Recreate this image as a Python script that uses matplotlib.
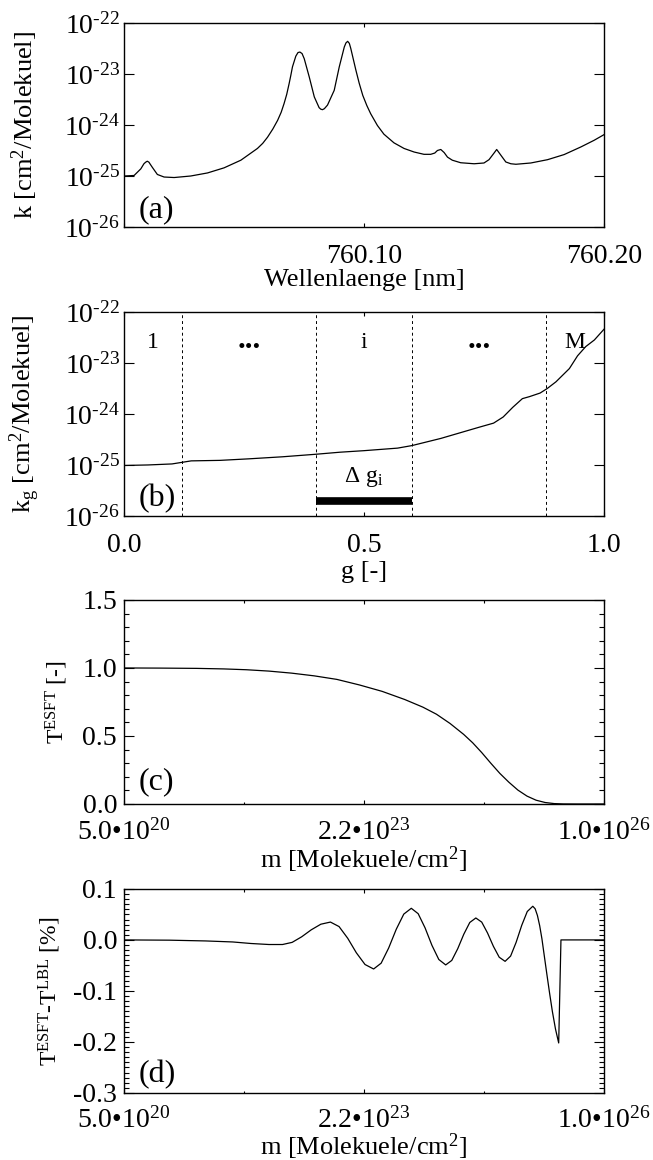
import numpy as np
import matplotlib
matplotlib.use("Agg")
import matplotlib.pyplot as plt
from matplotlib.ticker import FixedLocator, NullFormatter, LogLocator, MultipleLocator, FixedFormatter

plt.rcParams['font.family'] = ['Liberation Serif', 'DejaVu Serif']
plt.rcParams['mathtext.fontset'] = 'custom'
plt.rcParams['mathtext.rm'] = 'Liberation Serif'
plt.rcParams['mathtext.it'] = 'Liberation Serif:italic'
plt.rcParams['mathtext.bf'] = 'Liberation Serif:bold'
plt.rcParams['mathtext.default'] = 'regular'
plt.rcParams['axes.unicode_minus'] = False

# ---------------- data ----------------
# (a) absorption cross section vs wavelength
wavelength_nm = [760.0000, 760.0042, 760.0070, 760.0083, 760.0090, 760.0097, 760.0104, 760.0108,
                 760.0118, 760.0139, 760.0167, 760.0209, 760.0278, 760.0348, 760.0417, 760.0487,
                 760.0520, 760.0556, 760.0578, 760.0598, 760.0620, 760.0640, 760.0655, 760.0667,
                 760.0678, 760.0688, 760.0695, 760.0702, 760.0716, 760.0725,
                 760.0733, 760.0742, 760.0751, 760.0772, 760.0793, 760.0813, 760.0820, 760.0827,
                 760.0835, 760.0848, 760.0876, 760.0897, 760.0918, 760.0925, 760.0932, 760.0939,
                 760.0945, 760.0955, 760.0966, 760.0980, 760.0995, 760.1012, 760.1028, 760.1056,
                 760.1083, 760.1125, 760.1167, 760.1209, 760.1250,
                 760.1278, 760.1295, 760.1306, 760.1320, 760.1334, 760.1348, 760.1368, 760.1403,
                 760.1459, 760.1500, 760.1521, 760.1542, 760.1553, 760.1570, 760.1591, 760.1612,
                 760.1633, 760.1695, 760.1765, 760.1834, 760.1904, 760.1959, 760.2000]
k_log10 = [-25.00, -24.99, -24.86, -24.76, -24.73, -24.71, -24.73, -24.76,
           -24.83, -24.97, -25.02, -25.03, -25.00, -24.94, -24.84, -24.69,
           -24.58, -24.46, -24.36, -24.24, -24.08, -23.91, -23.75, -23.58,
           -23.40, -23.19, -23.03, -22.86, -22.65, -22.58,
           -22.57, -22.60, -22.70, -23.06, -23.45, -23.66, -23.69, -23.70,
           -23.68, -23.61, -23.32, -22.86, -22.47, -22.39, -22.36, -22.40,
           -22.50, -22.70, -22.92, -23.18, -23.42, -23.62, -23.78, -24.01,
           -24.18, -24.35, -24.46, -24.53, -24.575,
           -24.575, -24.55, -24.50, -24.48, -24.54, -24.63, -24.69, -24.74,
           -24.76, -24.745, -24.68, -24.55, -24.48, -24.59, -24.725, -24.76,
           -24.77, -24.745, -24.68, -24.58, -24.43, -24.30, -24.19]

# (b) k-distribution
g_values = [0.00, 0.05, 0.10, 0.12, 0.14, 0.20, 0.26, 0.33, 0.40, 0.45, 0.50, 0.57, 0.60,
            0.66, 0.70, 0.74, 0.77, 0.79, 0.81, 0.83, 0.845, 0.867, 0.882, 0.90, 0.928,
            0.945, 0.962, 0.98, 1.00]
kg_log10 = [-25.01, -25.00, -24.98, -24.95, -24.92, -24.91, -24.88, -24.84, -24.79, -24.75,
            -24.72, -24.67, -24.62, -24.48, -24.37, -24.26, -24.18, -24.06, -23.87, -23.70,
            -23.66, -23.59, -23.50, -23.37, -23.11, -22.86, -22.68, -22.55, -22.34]
g_bounds = [0.12, 0.40, 0.60, 0.88]
interval_labels = ['1', '...', 'i', '...', 'M']
interval_centers = [0.06, 0.26, 0.50, 0.74, 0.94]
delta_g_span = [0.40, 0.60]
delta_g_level = 2.0e-26

# (c) ESFT transmission vs column amount
m_c_log10 = [20.70, 21.10, 21.50, 21.80, 22.05, 22.30, 22.55, 22.80, 23.05, 23.30,
             23.55, 23.80, 24.00, 24.15, 24.30, 24.45, 24.55, 24.65, 24.75, 24.85,
             24.95, 25.05, 25.15, 25.25, 25.35, 25.45, 25.55, 25.70, 26.00]
T_esft = [1.000, 0.999, 0.997, 0.993, 0.987, 0.977, 0.962, 0.942, 0.916, 0.875,
          0.828, 0.768, 0.712, 0.660, 0.592, 0.512, 0.450, 0.378, 0.300, 0.225,
          0.160, 0.102, 0.058, 0.028, 0.011, 0.003, 0.0005, 0.0, 0.0]

# (d) ESFT - LBL difference [%]
m_d_log10 = [20.699, 21.20, 21.60, 21.90, 22.10, 22.30, 22.45, 22.556, 22.662, 22.767, 22.873,
             22.979, 23.074, 23.170, 23.265, 23.361,
             23.456, 23.539, 23.622, 23.706, 23.789,
             23.872, 23.948, 24.024, 24.100, 24.176,
             24.252, 24.319, 24.385, 24.452, 24.518,
             24.585, 24.650, 24.714, 24.779, 24.843,
             24.908, 24.969, 25.030, 25.092, 25.153,
             25.214, 25.240, 25.265, 25.290, 25.315, 25.340, 25.370, 25.400, 25.430, 25.465,
             25.500, 25.525, 26.0]
dT_percent = [0.0, -0.0005, -0.002, -0.004, -0.007, -0.009, -0.009, -0.0048, 0.0062, 0.0198, 0.0308,
              0.035, 0.0262, 0.0032, -0.0252, -0.0482,
              -0.057, -0.0456, -0.0159, 0.0209, 0.0506,
              0.062, 0.0514, 0.0237, -0.0106, -0.0384,
              -0.049, -0.0402, -0.0172, 0.0112, 0.0342,
              0.043, 0.0349, 0.0136, -0.0126, -0.0339,
              -0.042, -0.0317, -0.0047, 0.0287, 0.0557,
              0.066, 0.061, 0.048, 0.028, 0.002, -0.030, -0.068, -0.105, -0.140, -0.175,
              -0.202, 0.0, 0.0]

m_tick_values = [5.0e20, 2.236e23, 1.0e26]
m_tick_labels = ['5.0•10$^{20}$', '2.2•10$^{23}$', '1.0•10$^{26}$']
m_minor_values = [1.06e22, 4.73e24]
log_tick_values = [1e-26, 1e-25, 1e-24, 1e-23, 1e-22]
log_tick_labels = [r'10$^{\text{-26}}$', r'10$^{\text{-25}}$', r'10$^{\text{-24}}$',
                   r'10$^{\text{-23}}$', r'10$^{\text{-22}}$']

# ---------------- figure ----------------
fig = plt.figure(figsize=(6.53, 11.6), dpi=100)
L, W, H = 0.1899, 0.735, 0.1759
ax_a = fig.add_axes([L, 0.8043, W, H])
ax_b = fig.add_axes([L, 0.5552, W, H])
ax_c = fig.add_axes([L, 0.3069, W, H])
ax_d = fig.add_axes([L, 0.0578, W, H])

TICK_FS = 20
LAB_FS = 19
LW = 0.9

def style(ax):
    for s in ax.spines.values():
        s.set_linewidth(1.0)
    ax.tick_params(which='both', direction='in', top=True, right=True, labelsize=TICK_FS,
                   width=0.8, colors='black')
    ax.tick_params(axis='y', which='major', length=7, pad=3)
    ax.tick_params(axis='y', which='minor', length=3.5)
    ax.tick_params(axis='x', which='major', length=3, pad=12)
    ax.tick_params(axis='x', which='minor', length=1.8)

def log_y(ax):
    ax.set_yscale('log')
    ax.set_ylim(1e-26, 1e-22)
    ax.yaxis.set_major_locator(FixedLocator(log_tick_values))
    ax.yaxis.set_major_formatter(FixedFormatter(log_tick_labels))
    ax.yaxis.set_minor_locator(LogLocator(base=10, subs=np.arange(2, 10)))
    ax.yaxis.set_minor_formatter(NullFormatter())

# (a)
ax_a.plot(wavelength_nm, np.power(10.0, k_log10), color='black', lw=LW)
ax_a.set_xlim(760.0, 760.2)
log_y(ax_a)
ax_a.xaxis.set_major_locator(FixedLocator([760.0, 760.1, 760.2]))
ax_a.xaxis.set_major_formatter(FixedFormatter(['', '760.10', '760.20']))
style(ax_a)
ax_a.set_xlabel('Wellenlaenge [nm]', fontsize=LAB_FS, va='center')
ax_a.xaxis.set_label_coords(0.5, -0.26)
ax_a.set_ylabel(r'k [cm$^2$/Molekuel]', fontsize=LAB_FS, va='center')
ax_a.yaxis.set_label_coords(-0.206, 0.5)
ax_a.text(0.03, 0.05, '(a)', transform=ax_a.transAxes, fontsize=23, ha='left', va='baseline')

# (b)
ax_b.plot(g_values, np.power(10.0, kg_log10), color='black', lw=LW)
ax_b.set_xlim(0, 1)
log_y(ax_b)
for gb in g_bounds:
    ax_b.axvline(gb, color='black', lw=0.7, linestyle=(0, (3, 3)))
for xc, lab in zip(interval_centers, interval_labels):
    if lab == '...':
        ax_b.text(xc, 0.822, lab, transform=ax_b.get_xaxis_transform(), fontsize=22,
                  ha='center', va='baseline', fontweight='bold')
    else:
        ax_b.text(xc, 0.822, lab, transform=ax_b.get_xaxis_transform(), fontsize=17,
                  ha='center', va='baseline')
ax_b.plot(delta_g_span, [delta_g_level, delta_g_level], color='black', lw=5.5,
          solid_capstyle='butt')
ax_b.text(0.5, 0.168, r'Δ g$_{\rm i}$', transform=ax_b.get_xaxis_transform(), fontsize=17,
          ha='center', va='baseline')
ax_b.xaxis.set_major_locator(FixedLocator([0.0, 0.5, 1.0]))
ax_b.xaxis.set_major_formatter(FixedFormatter(['0.0', '0.5', '1.0']))
style(ax_b)
ax_b.set_xlabel('g [-]', fontsize=LAB_FS, va='center')
ax_b.xaxis.set_label_coords(0.5, -0.275)
ax_b.set_ylabel(r'k$_{\rm g}$ [cm$^2$/Molekuel]', fontsize=LAB_FS, va='center')
ax_b.yaxis.set_label_coords(-0.206, 0.5)
ax_b.text(0.03, 0.05, '(b)', transform=ax_b.transAxes, fontsize=23, ha='left', va='baseline')

def m_axis(ax):
    ax.set_xscale('log')
    ax.set_xlim(5e20, 1e26)
    ax.xaxis.set_major_locator(FixedLocator(m_tick_values))
    ax.xaxis.set_major_formatter(FixedFormatter(m_tick_labels))
    ax.xaxis.set_minor_locator(FixedLocator(m_minor_values))
    ax.xaxis.set_minor_formatter(NullFormatter())

# (c)
ax_c.plot(np.power(10.0, m_c_log10), T_esft, color='black', lw=LW)
m_axis(ax_c)
ax_c.set_ylim(0.0, 1.5)
ax_c.yaxis.set_major_locator(FixedLocator([0.0, 0.5, 1.0, 1.5]))
ax_c.yaxis.set_major_formatter(FixedFormatter(['0.0', '0.5', '1.0', '1.5']))
ax_c.yaxis.set_minor_locator(MultipleLocator(0.1))
style(ax_c)
ax_c.tick_params(axis='x', which='major', pad=11)
ax_c.tick_params(axis='y', which='major', pad=5)
ax_c.set_xlabel(r'm [Molekuele/cm$^2$]', fontsize=LAB_FS, va='center')
ax_c.xaxis.set_label_coords(0.5, -0.272)
ax_c.set_ylabel(r'T$^{\rm ESFT}$ [-]', fontsize=17, va='center')
ax_c.yaxis.set_label_coords(-0.14, 0.5)
ax_c.text(0.03, 0.072, '(c)', transform=ax_c.transAxes, fontsize=23, ha='left', va='baseline')

# (d)
ax_d.plot(np.power(10.0, m_d_log10), dT_percent, color='black', lw=LW)
m_axis(ax_d)
ax_d.set_ylim(-0.3, 0.1)
ax_d.yaxis.set_major_locator(FixedLocator([-0.3, -0.2, -0.1, 0.0, 0.1]))
ax_d.yaxis.set_major_formatter(FixedFormatter(['-0.3', '-0.2', '-0.1', '0.0', '0.1']))
ax_d.yaxis.set_minor_locator(MultipleLocator(0.01))
style(ax_d)
ax_d.tick_params(axis='x', which='major', pad=10)
ax_d.tick_params(axis='y', which='major', pad=5)
ax_d.set_xlabel(r'm [Molekuele/cm$^2$]', fontsize=LAB_FS, va='center')
ax_d.xaxis.set_label_coords(0.5, -0.262)
ax_d.set_ylabel(r'T$^{\rm ESFT}$-T$^{\rm LBL}$ [%]', fontsize=17, va='center')
ax_d.yaxis.set_label_coords(-0.154, 0.5)
ax_d.text(0.03, 0.055, '(d)', transform=ax_d.transAxes, fontsize=23, ha='left', va='baseline')

fig.savefig('out.png', dpi=100)
